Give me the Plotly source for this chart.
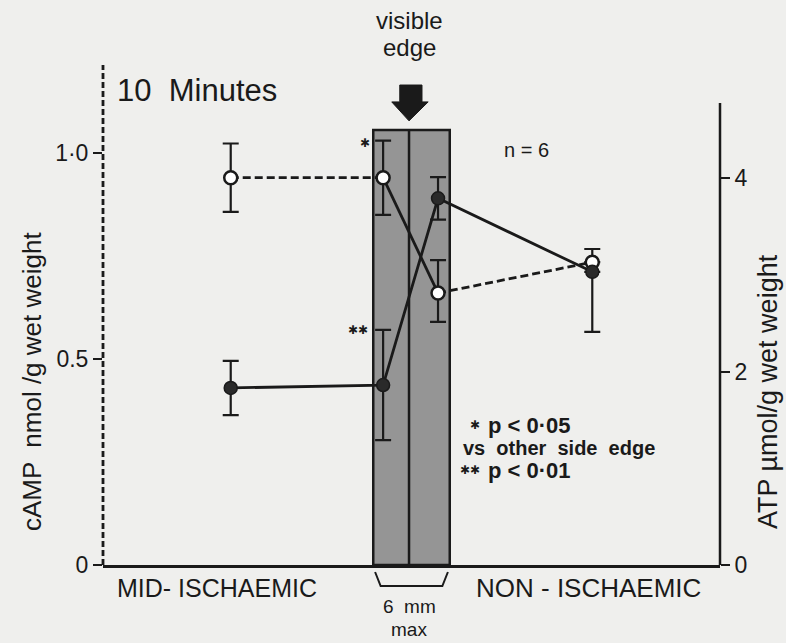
import plotly.graph_objects as go

# ---- data ----
categories = ["Mid-ischaemic", "Edge (ischaemic side)", "Edge (non-ischaemic side)", "Non-ischaemic"]
camp_mean = [0.94, 0.94, 0.66, 0.735]
camp_err_plus = [0.083, 0.09, 0.08, 0.032]
camp_err_minus = [0.083, 0.09, 0.07, 0.0]
atp_mean = [1.83, 1.86, 3.79, 3.03]
atp_err_plus = [0.28, 0.57, 0.22, 0.0]
atp_err_minus = [0.28, 0.57, 0.22, 0.62]
left_ticks = [0, 0.5, 1.0]
left_tick_labels = ["0", "0.5", "1·0"]
right_ticks = [0, 2, 4]
right_tick_labels = ["0", "2", "4"]

# ---- layout helpers (positions on a 0..10 horizontal scale) ----
x_pos = [2.07, 4.54, 5.43, 7.93]
band_x0, band_x1, band_mid = 4.38, 5.62, 4.96
band_top = 1.056

FONT = "Liberation Sans, Arial, sans-serif"
INK = "#1a1a1a"
BG = "#efefed"

fig = go.Figure()

# ATP (filled circles, solid line) on right axis
fig.add_trace(go.Scatter(
    x=x_pos, y=atp_mean, yaxis="y2", mode="lines+markers",
    line=dict(color=INK, width=2.8),
    marker=dict(symbol="circle", size=13, color="#2a2a2a", line=dict(color=INK, width=1.5)),
    error_y=dict(type="data", symmetric=False, array=atp_err_plus, arrayminus=atp_err_minus,
                 color=INK, thickness=2.2, width=8),
    name="ATP", showlegend=False, cliponaxis=False,
))
# cAMP line: dashed outside the border zone, solid across it
for seg, dash in (([0, 1], "8px,4px"), ([1, 2], "solid"), ([2, 3], "8px,4px")):
    fig.add_trace(go.Scatter(
        x=[x_pos[i] for i in seg], y=[camp_mean[i] for i in seg], mode="lines",
        line=dict(color=INK, width=2.8, dash=dash), showlegend=False, hoverinfo="skip",
    ))
# cAMP (open circles) markers on left axis
fig.add_trace(go.Scatter(
    x=x_pos, y=camp_mean, mode="markers",
    marker=dict(symbol="circle", size=13, color="white", line=dict(color=INK, width=2.5)),
    error_y=dict(type="data", symmetric=False, array=camp_err_plus, arrayminus=camp_err_minus,
                 color=INK, thickness=2.2, width=8),
    name="cAMP", showlegend=False, cliponaxis=False,
))

shapes = [
    # stippled border zone
    dict(type="rect", xref="x", yref="y", x0=band_x0, x1=band_x1, y0=0, y1=band_top,
         fillcolor="#959595", line=dict(color=INK, width=2.5), layer="below"),
    dict(type="line", xref="x", yref="y", x0=band_mid, x1=band_mid, y0=0, y1=band_top,
         line=dict(color=INK, width=2.5), layer="below"),
    # dashed left axis
    dict(type="line", xref="paper", yref="paper", x0=0, x1=0, y0=0, y1=1,
         line=dict(color=INK, width=2.8, dash="6px,3px")),
    # right axis line
    dict(type="line", xref="paper", yref="y2", x0=1, x1=1, y0=0, y1=4.775,
         line=dict(color=INK, width=2.5)),
    # arrow (visible edge)
    dict(type="path", xref="x", yref="y",
         path="M 4.81 1.165 L 5.17 1.165 L 5.17 1.124 L 5.27 1.124 L 4.96 1.078 "
              "L 4.68 1.124 L 4.81 1.124 Z",
         fillcolor=INK, line=dict(color=INK, width=1)),
]


def py(px):
    return (565 - px) / 500.0


def px_x(px):
    return (px - 103) / 61.7


# bracket under the band
shapes.append(dict(type="path", xref="x", yref="paper",
                   path=f"M {band_x0+0.03} {py(572)} L {band_x0+0.12} {py(586)} "
                        f"L {band_x1-0.12} {py(586)} L {band_x1-0.03} {py(572)}",
                   line=dict(color=INK, width=2)))

ann = []


def text(x, y, s, size, xref="x", yref="paper", bold=False, xanchor="center", **kw):
    ann.append(dict(x=x, y=y, xref=xref, yref=yref, text=(f"<b>{s}</b>" if bold else s),
                    showarrow=False, xanchor=xanchor, yanchor="middle", borderpad=0,
                    font=dict(family=FONT, size=size, color=INK), **kw))


text(px_x(116), py(90), "10  Minutes", 31, xanchor="left")
text(band_mid, py(21), "visible", 24)
text(band_mid, py(48), "edge", 24)
text(px_x(526), py(150), "n = 6", 20)
text(px_x(365), py(143), "✱", 12)
text(px_x(358), py(330), "✱✱", 12)
text(px_x(475), py(425), "✱", 12)
text(px_x(487), py(425), "p < 0·05", 22, bold=True, xanchor="left")
text(px_x(462), py(448), "vs  other  side  edge", 20, bold=True, xanchor="left")
text(px_x(470), py(470), "✱✱", 12)
text(px_x(487), py(470), "p < 0·01", 22, bold=True, xanchor="left")
text(px_x(217), py(588), "MID- ISCHAEMIC", 25)
text(px_x(588), py(588), "NON - ISCHAEMIC", 26)
text(band_mid, py(606), "6  mm", 19)
text(band_mid, py(629), "max", 19)
# axis titles
text((32 - 103) / 617, py(382), "cAMP  nmol /g wet weight", 26, xref="paper", textangle=-90)
text((768 - 103) / 617, py(392), "ATP µmol/g wet weight", 27, xref="paper", textangle=-90)

fig.update_layout(
    width=786, height=643,
    margin=dict(l=103, r=66, t=65, b=78),
    paper_bgcolor=BG, plot_bgcolor=BG,
    showlegend=False,
    font=dict(family=FONT, color=INK),
    xaxis=dict(range=[0, 10], showgrid=False, zeroline=False, showticklabels=False,
               ticks="", showline=True, linecolor=INK, linewidth=2.5),
    yaxis=dict(range=[0, 500 / 412], showgrid=False, zeroline=False, showline=False,
               tickvals=left_ticks, ticktext=left_tick_labels, ticks="outside",
               ticklen=9, tickwidth=2.2, tickcolor=INK,
               tickfont=dict(family=FONT, size=23, color=INK)),
    yaxis2=dict(range=[0, 500 / 96.75], overlaying="y", side="right", showgrid=False,
                zeroline=False, showline=False, tickvals=right_ticks, ticktext=right_tick_labels,
                ticks="outside", ticklen=9, tickwidth=2.2, tickcolor=INK,
                tickfont=dict(family=FONT, size=23, color=INK)),
    shapes=shapes,
    annotations=ann,
)

fig.write_html("out.html")
